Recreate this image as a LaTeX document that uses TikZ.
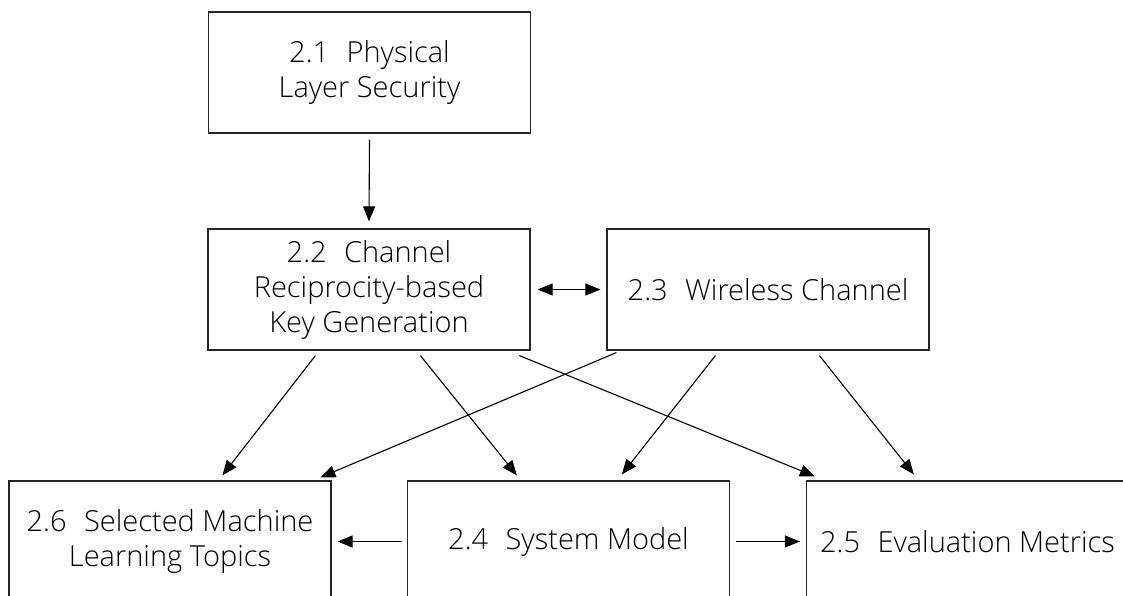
\documentclass[tikz,border=0pt]{standalone}
\usepackage{fontspec}
\setmainfont{Open Sans Light}
\usetikzlibrary{arrows.meta,calc}

\tikzset{
  secbox/.style={draw=black!85, line width=1.2pt, rectangle,
    minimum width=322pt, minimum height=121pt, inner sep=0pt,
    align=center, font=\fontsize{29}{35}\selectfont},
  link/.style={draw=black, line width=1.1pt,
    -{Triangle[length=15pt,width=12pt]}},
  duallink/.style={draw=black, line width=1.1pt,
    {Triangle[length=15pt,width=12pt]}-{Triangle[length=15pt,width=12pt]}}
}
\newcommand{\secgap}{\hspace{0.6em}}

\begin{document}
\begin{tikzpicture}[x=1pt,y=-1pt]
  \useasboundingbox (0,0) rectangle (1123,596);
  \clip (0,0) rectangle (1123,596);

  % section boxes
  \node[secbox] (s21) at (369.5,72.5)  {2.1\secgap Physical\\Layer Security};
  \node[secbox] (s22) at (369,289.5)   {2.2\secgap Channel\\Reciprocity-based\\Key Generation};
  \node[secbox] (s23) at (768,289.5)   {2.3\secgap Wireless Channel};
  \node[secbox] (s26) at (170,541.5)   {2.6\secgap Selected Machine\\Learning Topics};
  \node[secbox] (s24) at (568.5,541.5) {2.4\secgap System Model};
  \node[secbox] (s25) at (967.5,541.5) {2.5\secgap Evaluation Metrics};

  % dependencies between sections
  \draw[link] ([shift={(0,6)}]s21.south) -- ([shift={(0,-7)}]s22.north);
  \draw[duallink] ([shift={(7,0)}]s22.east) -- ([shift={(-6,0)}]s23.west);

  \draw[link] ([shift={(108,5)}]s22.south west) -- ([shift={(214,-5)}]s26.north west);
  \draw[link] ([shift={(213,5)}]s22.south west) -- ([shift={(110,-5)}]s24.north west);
  \draw[link] ([shift={(312,5)}]s22.south west) -- ([shift={(9,-4)}]s25.north west);

  \draw[link] ([shift={(10,2)}]s23.south west) -- ([shift={(312,-3)}]s26.north west);
  \draw[link] ([shift={(109,5)}]s23.south west) -- ([shift={(215,-6)}]s24.north west);
  \draw[link] ([shift={(213,5)}]s23.south west) -- ([shift={(108,-6)}]s25.north west);

  \draw[link] ([shift={(-5,0)}]s24.west) -- ([shift={(6,0)}]s26.east);
  \draw[link] ([shift={(6,0)}]s24.east) -- ([shift={(-6,0)}]s25.west);
\end{tikzpicture}
\end{document}
